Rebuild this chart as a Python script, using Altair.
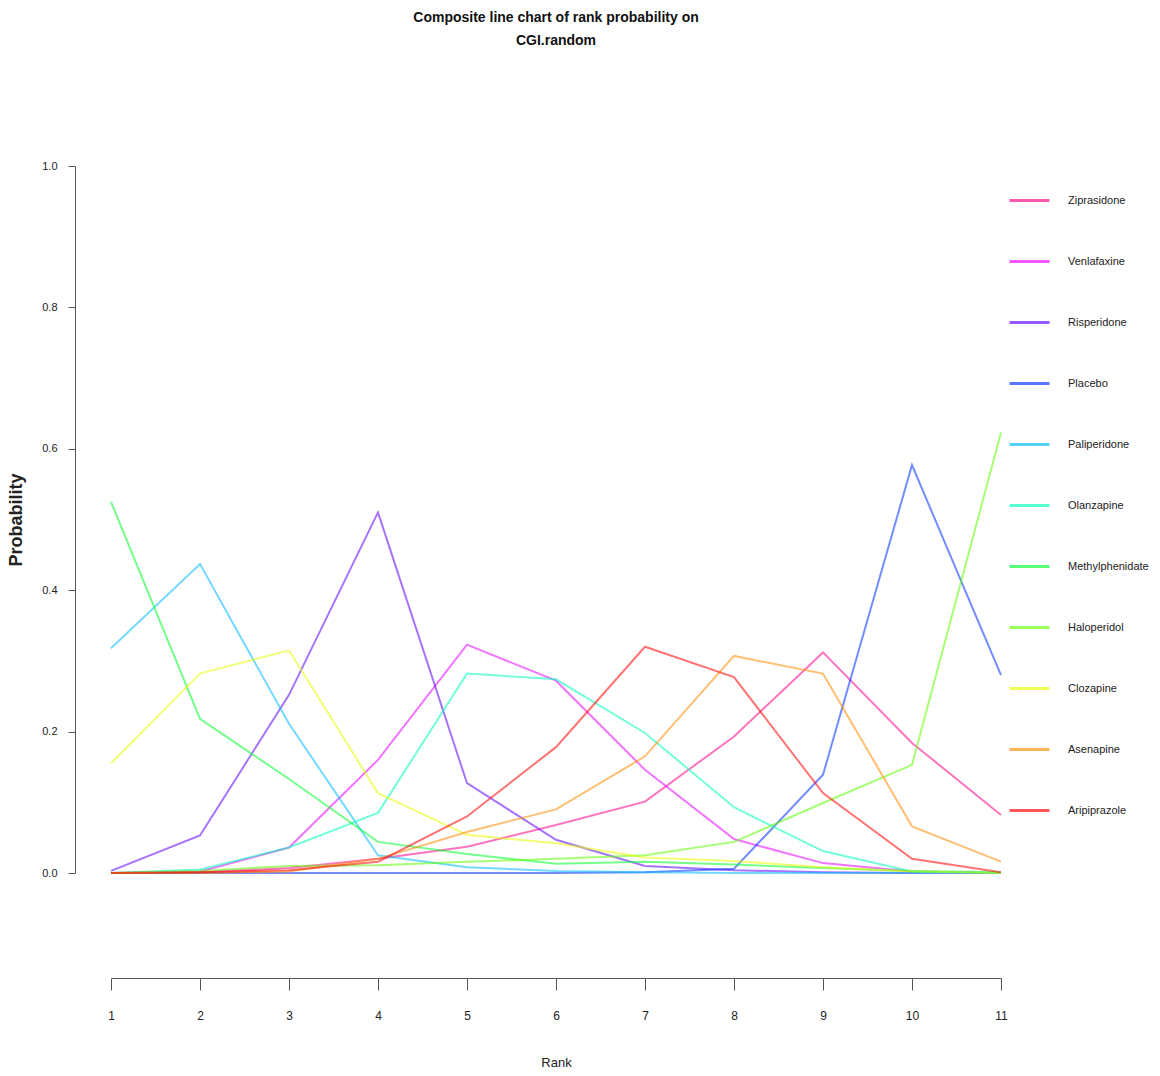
import altair as alt
import pandas as pd

ranks = list(range(1, 12))

drugs = ["Ziprasidone", "Venlafaxine", "Risperidone", "Placebo", "Paliperidone",
         "Olanzapine", "Methylphenidate", "Haloperidol", "Clozapine", "Asenapine",
         "Aripiprazole"]

colors = ["#FF008B", "#E800FF", "#5D00FF", "#002EFF", "#00B9FF",
          "#00FFB9", "#00FF2E", "#5DFF00", "#E8FF00", "#FF8B00", "#FF0000"]

Ziprasidone = [0.0, 0.001, 0.007, 0.020, 0.037, 0.068, 0.101, 0.193, 0.312, 0.184, 0.082]
Venlafaxine = [0.0, 0.002, 0.036, 0.160, 0.323, 0.272, 0.146, 0.048, 0.014, 0.002, 0.0]
Risperidone = [0.003, 0.053, 0.252, 0.510, 0.127, 0.047, 0.010, 0.004, 0.001, 0.0, 0.0]
Placebo = [0.0, 0.0, 0.0, 0.0, 0.0, 0.0, 0.001, 0.006, 0.139, 0.577, 0.280]
Paliperidone = [0.318, 0.437, 0.211, 0.025, 0.008, 0.003, 0.001, 0.0, 0.0, 0.0, 0.0]
Olanzapine = [0.0, 0.005, 0.036, 0.085, 0.282, 0.274, 0.198, 0.093, 0.031, 0.002, 0.0]
Methylphenidate = [0.525, 0.218, 0.133, 0.044, 0.027, 0.013, 0.016, 0.012, 0.007, 0.003, 0.001]
Haloperidol = [0.0, 0.003, 0.010, 0.011, 0.016, 0.020, 0.025, 0.044, 0.099, 0.153, 0.623]
Clozapine = [0.155, 0.282, 0.315, 0.113, 0.054, 0.042, 0.022, 0.017, 0.008, 0.002, 0.0]
Asenapine = [0.0, 0.0, 0.002, 0.020, 0.058, 0.090, 0.165, 0.307, 0.282, 0.066, 0.016]
Aripiprazole = [0.0, 0.001, 0.004, 0.016, 0.080, 0.178, 0.320, 0.277, 0.113, 0.020, 0.001]

series = [Ziprasidone, Venlafaxine, Risperidone, Placebo, Paliperidone, Olanzapine,
          Methylphenidate, Haloperidol, Clozapine, Asenapine, Aripiprazole]

y_ticks = [0.0, 0.2, 0.4, 0.6, 0.8, 1.0]

rows = []
for d, vals in zip(drugs, series):
    for r, v in zip(ranks, vals):
        rows.append({"Drug": d, "Rank": r, "Probability": v})
df = pd.DataFrame(rows)

FONT = "Liberation Sans, Arial, sans-serif"

chart = alt.Chart(df).mark_line(strokeWidth=2, opacity=0.55).encode(
    x=alt.X(
        "Rank:Q",
        scale=alt.Scale(domain=[1, 11], nice=False, zero=False),
        axis=alt.Axis(
            values=ranks, format="d", offset=105, tickSize=12, labelPadding=20,
            titlePadding=35, grid=False, labelFont=FONT, labelFontSize=12,
            labelFlush=False,
            titleFont=FONT, titleFontSize=13, titleFontWeight="normal",
            labelColor="#222", titleColor="#222", domainColor="#555",
            tickColor="#555", labelAngle=0,
        ),
    ),
    y=alt.Y(
        "Probability:Q",
        scale=alt.Scale(domain=[0, 1], nice=False),
        axis=alt.Axis(
            values=y_ticks, format=".1f", offset=36, tickSize=7, labelPadding=11,
            titlePadding=16, grid=False, labelFont=FONT, labelFontSize=11,
            labelFlush=False,
            titleFont=FONT, titleFontSize=18, titleFontWeight="bold",
            labelColor="#222", titleColor="#222", domainColor="#555",
            tickColor="#555",
        ),
    ),
    color=alt.Color(
        "Drug:N",
        scale=alt.Scale(domain=drugs, range=colors),
        legend=alt.Legend(
            title=None, orient="none", legendX=897, legendY=13,
            symbolType="stroke", symbolSize=1600, symbolStrokeWidth=3,
            symbolOpacity=0.65, labelOffset=17, rowPadding=33, padding=0,
            labelFont=FONT, labelFontSize=11, labelColor="#222",
            labelLimit=200,
        ),
    ),
).properties(
    width=890,
    height=707,
    title=alt.TitleParams(
        text=["Composite line chart of rank probability on", "CGI.random"],
        anchor="middle", frame="group", font=FONT, fontSize=14,
        fontWeight="bold", lineHeight=23, offset=112, color="#111",
    ),
    padding={"left": 111, "top": 166, "right": 159, "bottom": 203},
    autosize=alt.AutoSizeParams(type="none"),
).configure_view(stroke=None)

chart.save("out.html", embed_options={"renderer": "svg", "actions": False})
